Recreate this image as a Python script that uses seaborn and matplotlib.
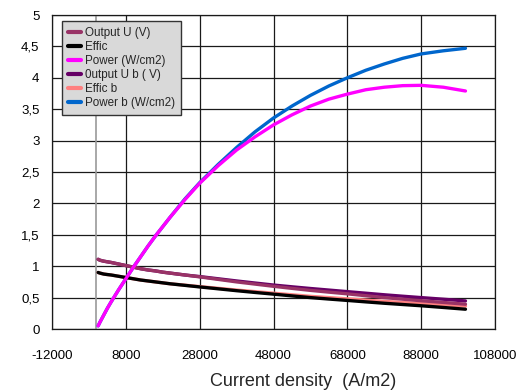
import matplotlib
matplotlib.use("Agg")
import matplotlib.pyplot as plt
import seaborn as sns
import pandas as pd
from matplotlib.ticker import FuncFormatter, MultipleLocator

# ---- data ----
current = [500, 1000, 2000, 3000, 4000, 6000, 8000, 10000, 12000, 14000, 16000,
           18000, 20000, 24000, 28000, 33000, 38000, 43000, 48000, 53000, 58000,
           63000, 68000, 73000, 78000, 83000, 88000, 94000, 100000]
output_u = [1.11, 1.095, 1.08, 1.07, 1.06, 1.035, 1.01, 0.985, 0.96, 0.94, 0.925,
            0.905, 0.89, 0.86, 0.83, 0.79, 0.75, 0.715, 0.68, 0.647, 0.615,
            0.587, 0.56, 0.53, 0.50, 0.475, 0.45, 0.423, 0.395]
effic = [0.90, 0.89, 0.875, 0.867, 0.86, 0.84, 0.82, 0.80, 0.78, 0.765, 0.75,
         0.735, 0.72, 0.695, 0.67, 0.64, 0.61, 0.582, 0.555, 0.527, 0.50,
         0.477, 0.455, 0.432, 0.41, 0.39, 0.37, 0.343, 0.315]
power = [0.05, 0.11, 0.22, 0.33, 0.43, 0.62, 0.80, 0.98, 1.15, 1.32, 1.48,
         1.63, 1.78, 2.06, 2.32, 2.60, 2.85, 3.06, 3.25, 3.41, 3.55,
         3.66, 3.74, 3.81, 3.85, 3.875, 3.88, 3.85, 3.79]
output_u_b = [1.11, 1.095, 1.08, 1.07, 1.06, 1.035, 1.01, 0.985, 0.96, 0.94, 0.925,
              0.905, 0.89, 0.86, 0.835, 0.80, 0.765, 0.732, 0.70, 0.672, 0.645,
              0.62, 0.595, 0.57, 0.545, 0.522, 0.50, 0.474, 0.447]
effic_b = [0.90, 0.89, 0.875, 0.867, 0.86, 0.84, 0.82, 0.80, 0.78, 0.765, 0.75,
           0.735, 0.72, 0.698, 0.675, 0.648, 0.62, 0.595, 0.57, 0.545, 0.52,
           0.50, 0.48, 0.46, 0.44, 0.422, 0.405, 0.385, 0.365]
power_b = [0.05, 0.11, 0.22, 0.33, 0.43, 0.62, 0.80, 0.98, 1.15, 1.32, 1.48,
           1.63, 1.78, 2.07, 2.33, 2.62, 2.89, 3.14, 3.36, 3.55, 3.72,
           3.87, 4.00, 4.12, 4.22, 4.31, 4.38, 4.43, 4.47]

series_names = ["Output U (V)", "Effic", "Power (W/cm2)",
                "0utput U b ( V)", "Effic b", "Power b (W/cm2)"]
series_values = [output_u, effic, power, output_u_b, effic_b, power_b]
series_colors = ["#993366", "#000000", "#FF00FF", "#660066", "#FF8080", "#0066CC"]
series_z = [5, 5, 5, 3, 3, 3]

x_ticks = [-12000, 8000, 28000, 48000, 68000, 88000, 108000]

sns.set_style("white")
plt.rcParams["font.family"] = ["Liberation Sans", "DejaVu Sans"]

fig = plt.figure(figsize=(5.26, 3.92), dpi=100)
ax = fig.add_axes([52 / 526, 1 - 329 / 392, (495 - 52) / 526, (329 - 15) / 392])

for name, vals, col, z in zip(series_names, series_values, series_colors, series_z):
    df = pd.DataFrame({"x": current, "y": vals})
    sns.lineplot(data=df, x="x", y="y", ax=ax, color=col, linewidth=2.4,
                 label=name, zorder=z, sort=True)

ax.set_xlim(-12000, 108000)
ax.set_ylim(0, 5)
ax.set_xticks(x_ticks)
ax.yaxis.set_major_locator(MultipleLocator(0.5))
ax.xaxis.set_major_formatter(FuncFormatter(lambda v, p: f"{int(v)}"))
ax.yaxis.set_major_formatter(FuncFormatter(
    lambda v, p: (f"{v:g}").replace(".", ",")))

ax.grid(True, color="#1a1a1a", linewidth=0.9, zorder=0)
ax.set_axisbelow(True)
ax.axvline(0, color="#999999", linewidth=1.2, zorder=1)

for s in ax.spines.values():
    s.set_color("#1a1a1a")
    s.set_linewidth(0.9)

ax.tick_params(axis="y", direction="inout", length=14, width=0.9, labelsize=9.5,
               colors="#1a1a1a", pad=2)
ax.tick_params(axis="x", direction="inout", length=14, width=0.9, labelsize=9.5,
               colors="#1a1a1a", pad=8)
for t in ax.get_xticklabels() + ax.get_yticklabels():
    t.set_color("black")

ax.set_xlabel("Current density  (A/m2)", fontsize=13)
ax.xaxis.set_label_coords((303 - 52) / 443, -(381 - 329) / 314)
ax.xaxis.label.set_va("center")
ax.set_ylabel("")

leg = ax.legend(loc="upper left", bbox_to_anchor=(10 / 443, 1 - 6 / 314),
                fontsize=8.4, frameon=True, fancybox=False,
                handlelength=1.15, handletextpad=0.35, labelspacing=0.18,
                borderpad=0.5, borderaxespad=0)
leg.get_frame().set_facecolor("#D9D9D9")
leg.get_frame().set_edgecolor("#333333")
leg.get_frame().set_linewidth(1.0)
leg.get_frame().set_alpha(1)
for h in leg.get_lines():
    h.set_linewidth(3)
leg.set_zorder(10)

fig.savefig("out.png", dpi=100)
